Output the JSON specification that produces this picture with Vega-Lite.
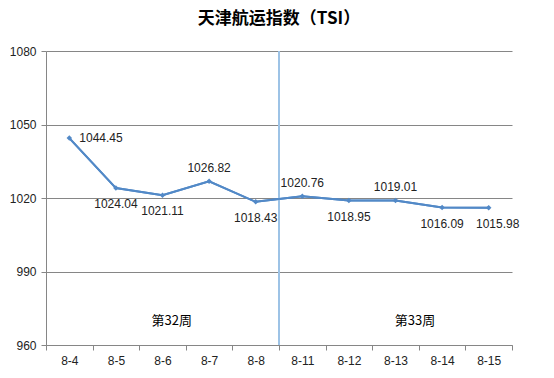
{
  "$schema": "https://vega.github.io/schema/vega-lite/v6.json",
  "width": 466,
  "height": 294,
  "autosize": {"type": "none"},
  "padding": {"left": 46, "top": 51, "right": 42, "bottom": 33},
  "background": "white",
  "title": {"text": "天津航运指数（TSI）", "font": "Noto Sans CJK SC", "fontSize": 17, "fontWeight": "bold", "color": "#000000", "offset": 17, "anchor": "middle"},
  "config": {"view": {"stroke": null}, "font": "Liberation Sans"},
  "data": {"values": [
    {"date": "8-4", "tsi": 1044.45, "pos": "right"},
    {"date": "8-5", "tsi": 1024.04, "pos": "below"},
    {"date": "8-6", "tsi": 1021.11, "pos": "below"},
    {"date": "8-7", "tsi": 1026.82, "pos": "above"},
    {"date": "8-8", "tsi": 1018.43, "pos": "below"},
    {"date": "8-11", "tsi": 1020.76, "pos": "above"},
    {"date": "8-12", "tsi": 1018.95, "pos": "below"},
    {"date": "8-13", "tsi": 1019.01, "pos": "above"},
    {"date": "8-14", "tsi": 1016.09, "pos": "below"},
    {"date": "8-15", "tsi": 1015.98, "pos": "belowright"}
  ]},
  "layer": [
    {
      "mark": {"type": "line", "color": "#5289C7", "strokeWidth": 2},
      "encoding": {
        "x": {"field": "date", "type": "ordinal", "sort": null, "scale": {"type": "band", "paddingInner": 0, "paddingOuter": 0},
          "axis": {"title": null, "labelAngle": 0, "tickBand": "extent", "domainColor": "#868686", "tickColor": "#868686", "tickSize": 5, "labelPadding": 5, "labelFontSize": 12, "labelColor": "#222222", "grid": false}},
        "y": {"field": "tsi", "type": "quantitative", "scale": {"domain": [960, 1080], "nice": false, "zero": false},
          "axis": {"title": null, "values": [960, 990, 1020, 1050, 1080], "format": "d", "domain": true, "gridColor": "#868686", "gridOpacity": 1, "domainColor": "#868686", "tickColor": "#868686", "tickSize": 5, "labelPadding": 5, "labelFontSize": 12, "labelColor": "#222222"}}
      }
    },
    {
      "data": {"values": [{}]},
      "mark": {"type": "rule", "color": "#9DC3E6", "strokeWidth": 2},
      "encoding": {"x": {"datum": "8-11", "bandPosition": 0}}
    },
    {
      "mark": {"type": "line", "color": "#5289C7", "strokeWidth": 2},
      "encoding": {
        "x": {"field": "date", "type": "ordinal", "sort": null},
        "y": {"field": "tsi", "type": "quantitative"}
      }
    },
    {
      "mark": {"type": "point", "shape": "diamond", "filled": true, "color": "#5289C7", "size": 30, "opacity": 1},
      "encoding": {
        "x": {"field": "date", "type": "ordinal", "sort": null},
        "y": {"field": "tsi", "type": "quantitative"}
      }
    },
    {
      "transform": [{"filter": "datum.pos == 'right'"}],
      "mark": {"type": "text", "align": "left", "dx": 10, "fontSize": 12, "color": "#222222"},
      "encoding": {
        "x": {"field": "date", "type": "ordinal", "sort": null},
        "y": {"field": "tsi", "type": "quantitative"},
        "text": {"field": "tsi", "type": "quantitative", "format": ".2f"}
      }
    },
    {
      "transform": [{"filter": "datum.pos == 'above'"}],
      "mark": {"type": "text", "align": "center", "dy": -13, "fontSize": 12, "color": "#222222"},
      "encoding": {
        "x": {"field": "date", "type": "ordinal", "sort": null},
        "y": {"field": "tsi", "type": "quantitative"},
        "text": {"field": "tsi", "type": "quantitative", "format": ".2f"}
      }
    },
    {
      "transform": [{"filter": "datum.pos == 'below'"}],
      "mark": {"type": "text", "align": "center", "dy": 16, "fontSize": 12, "color": "#222222"},
      "encoding": {
        "x": {"field": "date", "type": "ordinal", "sort": null},
        "y": {"field": "tsi", "type": "quantitative"},
        "text": {"field": "tsi", "type": "quantitative", "format": ".2f"}
      }
    },
    {
      "transform": [{"filter": "datum.pos == 'belowright'"}],
      "mark": {"type": "text", "align": "center", "dy": 16, "dx": 9, "fontSize": 12, "color": "#222222"},
      "encoding": {
        "x": {"field": "date", "type": "ordinal", "sort": null},
        "y": {"field": "tsi", "type": "quantitative"},
        "text": {"field": "tsi", "type": "quantitative", "format": ".2f"}
      }
    },
    {
      "data": {"values": [{}]},
      "mark": {"type": "text", "align": "center", "fontSize": 13, "font": "Noto Sans CJK SC", "color": "#000000"},
      "encoding": {
        "x": {"datum": "8-6", "bandPosition": 0.7},
        "y": {"datum": 970},
        "text": {"value": "第32周"}
      }
    },
    {
      "data": {"values": [{}]},
      "mark": {"type": "text", "align": "center", "fontSize": 13, "font": "Noto Sans CJK SC", "color": "#000000"},
      "encoding": {
        "x": {"datum": "8-13", "bandPosition": 0.92},
        "y": {"datum": 970},
        "text": {"value": "第33周"}
      }
    }
  ]
}
